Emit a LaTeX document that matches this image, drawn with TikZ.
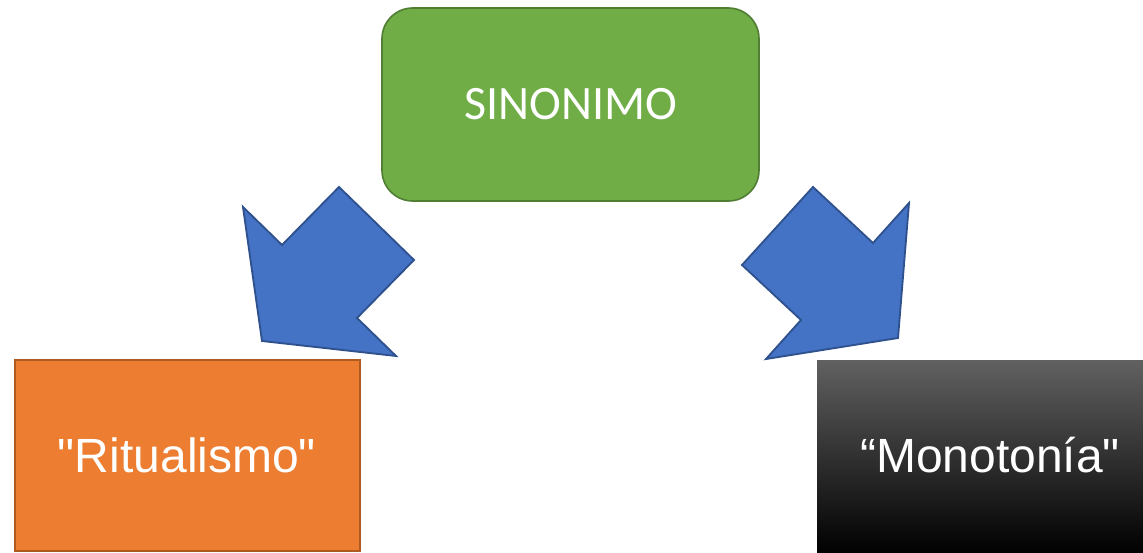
\documentclass[tikz,border=0pt]{standalone}
\usepackage{fontspec}
\setmainfont{Liberation Sans}[Ligatures=TeXOff]
\newfontfamily\calfont{Carlito}
\begin{document}
\begin{tikzpicture}[x=0.75pt,y=-0.75pt,
  boxstyle/.style={inner sep=0pt, line width=1.2pt, text=white},
  blockarrow/.style={fill=arrowblue, draw=arrowedge, line width=1.4pt, line join=miter},
  lbl/.style={text=white, inner sep=0pt, font=\fontsize{36}{40}\selectfont}]
\definecolor{arrowblue}{HTML}{4472C4}
\definecolor{arrowedge}{HTML}{2F528F}
\definecolor{sgreen}{HTML}{70AD47}
\definecolor{sgreenedge}{HTML}{507E32}
\definecolor{sorange}{HTML}{ED7D31}
\definecolor{sorangeedge}{HTML}{AE5A21}
\useasboundingbox (0,0) rectangle (1143,553);
% top box
\node[boxstyle, rectangle, rounded corners=23pt, fill=sgreen, draw=sgreenedge,
      minimum width=377*0.75pt, minimum height=193*0.75pt,
      font=\calfont\fontsize{36}{40}\selectfont] (sin) at (570.5,104.5) {SINONIMO};
% left box
\node[boxstyle, rectangle, fill=sorange, draw=sorangeedge,
      minimum width=345*0.75pt, minimum height=191*0.75pt] (rit) at (187.5,455.5) {};
\node[lbl] (ritt) at (187,455) {"Ritualismo"};
% right box
\node[rectangle, inner sep=0pt, top color=black!62, middle color=black!97, bottom color=black,
      minimum width=327*0.75pt, minimum height=194*0.75pt] (mon) at (980.5,457) {};
\node[lbl] (mont) at (990,455) {“Monotonía"};
% arrows
\draw[blockarrow] (243,207) -- (282,245) -- (339,187) -- (414,260) -- (357,318) -- (396,356) -- (262,341) -- cycle;
\draw[blockarrow] (813,187) -- (873,243) -- (909,203) -- (898,338) -- (766,359) -- (801,320) -- (742,265) -- cycle;
\end{tikzpicture}
\end{document}
